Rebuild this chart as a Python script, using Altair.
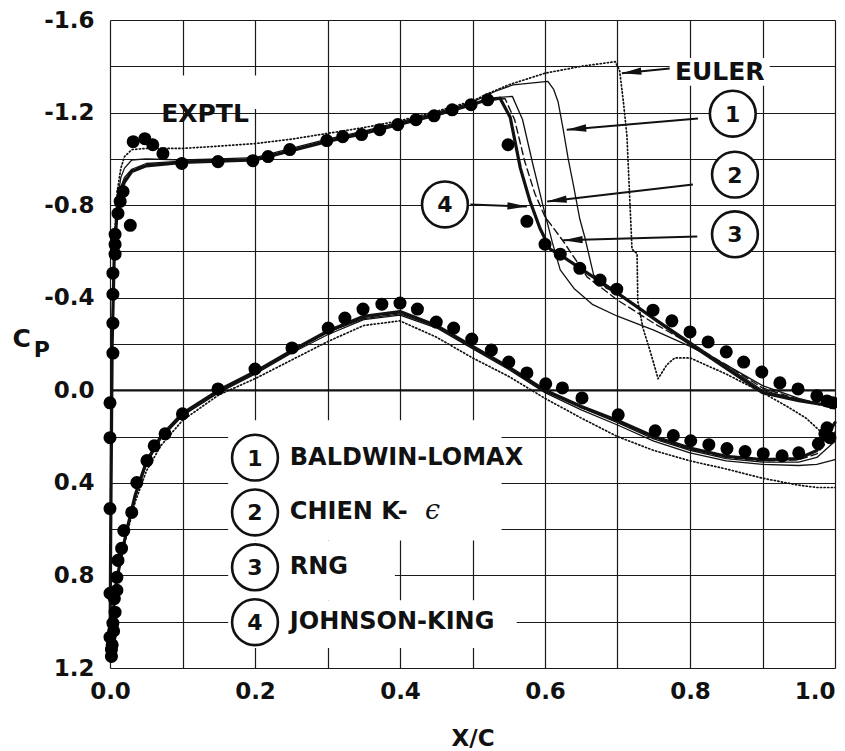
import altair as alt
import pandas as pd

# ---------------- experimental data (X/C, Cp) ----------------
EXP_X = [0.002, 0.002, 0.0, 0.003, 0.004, 0.007, 0.005, 0.0, 0.0095, 0.006, 0.0095, 0.011, 0.016, 0.019, 0.0,
         0.030, 0.037, 0.051, 0.061, 0.076, 0.1, 0.149, 0.2, 0.251, 0.301, 0.324, 0.349, 0.375, 0.4, 0.424,
         0.45, 0.474, 0.499, 0.526, 0.55, 0.575, 0.601, 0.624, 0.651, 0.701, 0.752, 0.777, 0.801, 0.826,
         0.851, 0.876, 0.901, 0.927, 0.95, 0.977, 0.986, 0.993, 0.989,
         0.0, 0.0, 0.004, 0.004, 0.004, 0.004, 0.007, 0.007, 0.007, 0.028, 0.011, 0.014, 0.018,
         0.032, 0.048, 0.059, 0.073, 0.099, 0.149, 0.197, 0.218, 0.248, 0.299, 0.321, 0.347, 0.372,
         0.397, 0.422, 0.447, 0.472, 0.498, 0.521, 0.549, 0.575, 0.6, 0.621, 0.648, 0.676, 0.699,
         0.749, 0.775, 0.8, 0.825, 0.85, 0.874, 0.899, 0.924, 0.949, 0.975, 0.989, 0.997]
EXP_CP = [1.15, 1.12, 1.067, 1.10, 1.006, 0.959, 1.04, 0.877, 0.864, 0.9, 0.808, 0.735, 0.683, 0.606, 0.511,
          0.528, 0.399, 0.304, 0.24, 0.188, 0.102, -0.006, -0.092, -0.183, -0.269, -0.312, -0.351, -0.372, -0.377, -0.351,
          -0.295, -0.269, -0.221, -0.174, -0.122, -0.075, -0.028, -0.01, 0.033, 0.106, 0.175, 0.196, 0.218, 0.235,
          0.252, 0.265, 0.274, 0.283, 0.27, 0.231, 0.188, 0.205, 0.162,
          0.205, 0.054, -0.161, -0.29, -0.415, -0.506, -0.588, -0.63, -0.674, -0.713, -0.764, -0.816, -0.859,
          -1.074, -1.087, -1.061, -1.023, -0.98, -0.988, -0.992, -1.01, -1.04, -1.079, -1.096, -1.105, -1.126,
          -1.148, -1.169, -1.186, -1.212, -1.234, -1.255, -1.061, -0.73, -0.631, -0.588, -0.527, -0.476, -0.437,
          -0.346, -0.3, -0.252, -0.209, -0.166, -0.122, -0.079, -0.032, -0.006, 0.024, 0.046, 0.054]

# ---------------- computed lines ----------------
LOWER_X = [0.0, 0.003, 0.008, 0.015, 0.025, 0.035, 0.05, 0.07, 0.1, 0.15, 0.2, 0.25, 0.3, 0.35, 0.4,
           0.45, 0.5, 0.55, 0.6, 0.65, 0.7, 0.75, 0.8, 0.85, 0.9, 0.95, 0.975, 1.0]
JK_LOWER = [1.15, 1.0, 0.85, 0.72, 0.58, 0.45, 0.31, 0.2, 0.1, 0.0, -0.08, -0.17, -0.255, -0.32, -0.34,
            -0.28, -0.19, -0.1, 0.0, 0.07, 0.13, 0.2, 0.25, 0.285, 0.3, 0.295, 0.26, 0.14]
BL_LOWER = [1.15, 1.0, 0.85, 0.72, 0.59, 0.46, 0.32, 0.21, 0.11, 0.01, -0.07, -0.16, -0.24, -0.305, -0.325,
            -0.27, -0.18, -0.09, 0.01, 0.085, 0.15, 0.22, 0.27, 0.305, 0.32, 0.325, 0.32, 0.30]
CHIEN_LOWER = [1.15, 1.0, 0.85, 0.72, 0.58, 0.46, 0.32, 0.205, 0.105, 0.005, -0.075, -0.165, -0.25, -0.31, -0.33,
               -0.275, -0.185, -0.095, 0.005, 0.075, 0.14, 0.21, 0.26, 0.295, 0.31, 0.31, 0.29, 0.22]
RNG_LOWER = [1.15, 1.0, 0.85, 0.72, 0.58, 0.455, 0.315, 0.2, 0.1, 0.0, -0.08, -0.165, -0.25, -0.315, -0.335,
             -0.28, -0.19, -0.1, 0.0, 0.075, 0.135, 0.205, 0.255, 0.29, 0.305, 0.3, 0.275, 0.18]
EULER_LOWER = [1.15, 1.0, 0.86, 0.73, 0.6, 0.48, 0.35, 0.24, 0.13, 0.02, -0.05, -0.13, -0.21, -0.28, -0.3,
               -0.23, -0.14, -0.06, 0.035, 0.12, 0.2, 0.26, 0.305, 0.34, 0.38, 0.41, 0.42, 0.42]

UP_LE_X = [0.0, 0.001, 0.003, 0.006, 0.01, 0.015, 0.02, 0.03, 0.05, 0.1, 0.15, 0.2, 0.25, 0.3, 0.35, 0.4, 0.45, 0.5]

JK_UP_X = UP_LE_X + [0.515, 0.538, 0.552, 0.566, 0.579, 0.593, 0.607, 0.621, 0.7, 0.8, 0.9, 0.95, 1.0]
JK_UP = [1.15, 0.6, -0.2, -0.6, -0.78, -0.86, -0.9, -0.945, -0.97, -0.985, -0.99, -0.995, -1.035, -1.075, -1.11, -1.15, -1.19, -1.235,
         -1.25, -1.262, -1.18, -0.96, -0.82, -0.70, -0.61, -0.585, -0.42, -0.20, 0.01, 0.045, 0.07]

CHIEN_UP_X = UP_LE_X + [0.531, 0.555, 0.569, 0.583, 0.597, 0.61, 0.621, 0.64, 0.666, 0.7, 0.75, 0.8, 0.85, 0.9, 0.95, 1.0]
CHIEN_UP = [1.15, 0.6, -0.2, -0.6, -0.79, -0.88, -0.92, -0.955, -0.98, -0.99, -0.995, -1.0, -1.04, -1.08, -1.115, -1.155, -1.195, -1.24,
            -1.265, -1.27, -1.17, -0.98, -0.80, -0.64, -0.52, -0.44, -0.37, -0.32, -0.26, -0.19, -0.11, -0.02, 0.035, 0.075]

RNG_UP_X = UP_LE_X + [0.525, 0.545, 0.558, 0.572, 0.586, 0.6, 0.625, 0.658, 0.7, 0.75, 0.8, 0.85, 0.9, 0.95, 1.0]
RNG_UP = [1.15, 0.6, -0.2, -0.6, -0.78, -0.87, -0.91, -0.95, -0.975, -0.985, -0.99, -0.995, -1.035, -1.075, -1.11, -1.15, -1.19, -1.235,
          -1.26, -1.26, -1.17, -0.99, -0.85, -0.75, -0.645, -0.49, -0.39, -0.29, -0.20, -0.11, -0.01, 0.04, 0.08]

BL_UP_X = UP_LE_X + [0.53, 0.556, 0.604, 0.612, 0.618, 0.625, 0.632, 0.639, 0.648, 0.655, 0.667, 0.685, 0.7, 0.8, 0.9, 0.95, 1.0]
BL_UP = [1.15, 0.6, -0.2, -0.62, -0.82, -0.92, -0.96, -0.995, -1.0, -0.995, -1.0, -1.005, -1.045, -1.085, -1.12, -1.16, -1.2, -1.245,
         -1.29, -1.32, -1.335, -1.30, -1.247, -1.13, -1.0, -0.89, -0.74, -0.66, -0.50, -0.44, -0.42, -0.21, 0.0, 0.04, 0.07]

EULER_UP_X = [0.0, 0.001, 0.003, 0.006, 0.01, 0.015, 0.02, 0.03, 0.05, 0.1, 0.15, 0.2, 0.25, 0.3, 0.35, 0.4, 0.45, 0.5,
              0.52, 0.55, 0.6, 0.65, 0.697, 0.703, 0.708, 0.713, 0.717, 0.72, 0.727, 0.728, 0.735, 0.745, 0.756, 0.768,
              0.779, 0.8, 0.85, 0.9, 0.934, 0.96, 0.979, 1.0]
EULER_UP = [1.15, 0.6, -0.25, -0.65, -0.86, -0.96, -1.01, -1.04, -1.045, -1.045, -1.055, -1.066, -1.085, -1.11, -1.135, -1.165, -1.205, -1.25,
            -1.28, -1.32, -1.37, -1.40, -1.42, -1.38, -1.25, -1.1, -0.82, -0.61, -0.59, -0.385, -0.27, -0.17, -0.05, -0.11,
            -0.14, -0.14, -0.07, 0.01, 0.07, 0.12, 0.175, 0.21]

# ---------------- annotations ----------------
LEGEND_NUMS = ["1", "2", "3", "4"]
LEGEND_NAMES = ["BALDWIN-LOMAX", "CHIEN K-", "RNG", "JOHNSON-KING"]
LEGEND_CP = [0.291, 0.528, 0.765, 1.002]
EPS_TEXT = ["\u03f5"]
CALLOUT_NUMS = ["1", "2", "3", "4"]
CALLOUT_X = [0.859, 0.862, 0.862, 0.462]
CALLOUT_CP = [-1.195, -0.932, -0.674, -0.803]
ARROW_X = [0.811, 0.804, 0.810, 0.497, 0.772]
ARROW_CP = [-1.174, -0.889, -0.665, -0.803, -1.39]
ARROW_X2 = [0.630, 0.603, 0.625, 0.575, 0.706]
ARROW_CP2 = [-1.126, -0.816, -0.648, -0.794, -1.37]
ARROW_ANGLE = [355, 353, 358, 2, 354]
ARROW_DIR = ["L", "L", "L", "R", "L"]

XT = [0.0, 0.1, 0.2, 0.3, 0.4, 0.5, 0.6, 0.7, 0.8, 0.9, 1.0]
YT = [-1.6, -1.4, -1.2, -1.0, -0.8, -0.6, -0.4, -0.2, 0.0, 0.2, 0.4, 0.6, 0.8, 1.0, 1.2]

FONT = "DejaVu Sans"
INK = "#111111"


def rows(model, surface, xs, cps):
    return [{"model": model, "surface": surface, "i": i, "x": x, "cp": c} for i, (x, c) in enumerate(zip(xs, cps))]


xs_scale = alt.Scale(domain=[0, 1], nice=False, zero=False)
ys_scale = alt.Scale(domain=[-1.6, 1.2], nice=False, zero=False, reverse=True)

x_axis = alt.Axis(values=XT, grid=True, ticks=False, tickSize=0, domain=False,
                  labelExpr="round(datum.value*10)%2==0 ? ((datum.value<0?'-':'') + format(abs(datum.value),'.1f')) : ''",
                  labelAlign={"condition": {"test": "datum.value >= 0.99", "value": "right"}, "value": "center"},
                  labelFont=FONT, labelFontSize=23, labelFontWeight="bold", labelColor=INK, labelPadding=12,
                  labelFlush=False, titleFont=FONT, titleFontSize=23, titleFontWeight="bold", titleColor=INK,
                  titlePadding=24, gridColor="#1a1a1a", gridWidth=1.2, gridOpacity=1)
y_axis = alt.Axis(values=YT, grid=True, ticks=False, tickSize=0, domain=False,
                  labelExpr="round(datum.value*5)%2==0 ? ((datum.value<0?'-':'') + format(abs(datum.value),'.1f')) : ''",
                  labelFont=FONT, labelFontSize=23, labelFontWeight="bold", labelColor=INK, labelPadding=16,
                  labelFlush=False, gridColor="#1a1a1a", gridWidth=1.2, gridOpacity=1)

X = alt.X("x:Q", scale=xs_scale, axis=x_axis, title="X/C")
Y = alt.Y("cp:Q", scale=ys_scale, axis=y_axis, title=None)
X2 = alt.X2("x2:Q")
Y2 = alt.Y2("cp2:Q")

# white knock-out boxes behind text (annotation geometry)
box_df = pd.DataFrame({
    "x": [0.163, 0.163, 0.163, 0.08, 0.772],
    "x2": [0.54, 0.393, 0.561, 0.212, 0.91],
    "cp": [0.13, 0.649, 0.907, -1.36, -1.436],
    "cp2": [0.649, 0.907, 1.114, -1.215, -1.316],
})
boxes = alt.Chart(box_df).mark_rect(color="white", opacity=1).encode(x=X, x2=X2, y=Y, y2=Y2)

zero_rule = alt.Chart(pd.DataFrame({"cp": [0.0]})).mark_rule(color=INK, strokeWidth=2.2).encode(y=Y)

styles = {
    "EULER": dict(strokeWidth=1.7, strokeDash=[1.2, 2.4]),
    "BL": dict(strokeWidth=1.3),
    "CHIEN": dict(strokeWidth=1.3),
    "RNG": dict(strokeWidth=1.4, strokeDash=[7, 4]),
    "JK": dict(strokeWidth=3.2),
}
series = {
    "EULER": (EULER_UP_X, EULER_UP, EULER_LOWER),
    "BL": (BL_UP_X, BL_UP, BL_LOWER),
    "CHIEN": (CHIEN_UP_X, CHIEN_UP, CHIEN_LOWER),
    "RNG": (RNG_UP_X, RNG_UP, RNG_LOWER),
    "JK": (JK_UP_X, JK_UP, JK_LOWER),
}
line_layers = []
for name, (ux, uc, lc) in series.items():
    df = pd.DataFrame(rows(name, "upper", ux, uc) + rows(name, "lower", LOWER_X, lc))
    line_layers.append(
        alt.Chart(df).mark_line(color=INK, strokeCap="round", strokeJoin="round", **styles[name]).encode(
            x=X, y=Y, detail="surface:N", order="i:Q")
    )

exp_df = pd.DataFrame({"x": EXP_X, "cp": EXP_CP})
points = alt.Chart(exp_df).mark_circle(size=170, color="black", opacity=1).encode(x=X, y=Y)

# arrows
arr_df = pd.DataFrame({"x": ARROW_X, "cp": ARROW_CP, "x2": ARROW_X2, "cp2": ARROW_CP2,
                       "ang": ARROW_ANGLE, "dir": ARROW_DIR})
shafts = alt.Chart(arr_df).mark_rule(color=INK, strokeWidth=2).encode(x=X, y=Y, x2=X2, y2=Y2)
HX = alt.X("hx:Q", scale=xs_scale, axis=x_axis, title="X/C")
HY = alt.Y("hcp:Q", scale=ys_scale, axis=y_axis, title=None)
head_left = alt.Chart(arr_df).transform_filter("datum.dir=='L'").transform_calculate(
    hx="datum.x2", hcp="datum.cp2").mark_point(
    shape="M0,0L2,-0.38L2,0.38Z", size=380, filled=True, color=INK, opacity=1).encode(
    x=HX, y=HY, angle=alt.Angle("ang:Q", scale=None))
head_right = alt.Chart(arr_df).transform_filter("datum.dir=='R'").transform_calculate(
    hx="datum.x2", hcp="datum.cp2").mark_point(
    shape="M0,0L-2,-0.38L-2,0.38Z", size=380, filled=True, color=INK, opacity=1).encode(
    x=HX, y=HY, angle=alt.Angle("ang:Q", scale=None))

# numbered circles
circ_df = pd.DataFrame({"x": CALLOUT_X + [0.2] * 4, "cp": CALLOUT_CP + LEGEND_CP,
                        "t": CALLOUT_NUMS + LEGEND_NUMS})
circles = alt.Chart(circ_df).mark_point(shape="circle", size=2100, fill="white", fillOpacity=1,
                                        stroke=INK, strokeWidth=2.6, opacity=1).encode(x=X, y=Y)
circle_txt = alt.Chart(circ_df).mark_text(font=FONT, fontSize=22, fontWeight="bold", color=INK,
                                          align="center", baseline="middle", dy=1).encode(x=X, y=Y, text="t:N")

leg_df = pd.DataFrame({"x": [0.248] * 4, "cp": LEGEND_CP, "t": LEGEND_NAMES})
leg_txt = alt.Chart(leg_df).mark_text(font=FONT, fontSize=24, fontWeight="bold", color=INK,
                                      align="left", baseline="middle").encode(x=X, y=Y, text="t:N")
eps_df = pd.DataFrame({"x": [0.445], "cp": [LEGEND_CP[1]], "t": EPS_TEXT})
eps_txt = alt.Chart(eps_df).mark_text(font="DejaVu Serif", fontSize=27, fontStyle="italic", color=INK,
                                      align="center", baseline="middle", dy=-1).encode(x=X, y=Y, text="t:N")

lab_df = pd.DataFrame({"x": [0.131, 0.841], "cp": [-1.195, -1.376], "t": ["EXPTL", "EULER"]})
labels = alt.Chart(lab_df).mark_text(font=FONT, fontSize=25, fontWeight="bold", color=INK,
                                     align="center", baseline="middle").encode(x=X, y=Y, text="t:N")
cp_df = pd.DataFrame({"x": [-0.122], "cp": [-0.221], "t": ["C"]})
cp_txt = alt.Chart(cp_df).mark_text(font=FONT, fontSize=25, fontWeight="bold", color=INK,
                                    align="center", baseline="middle").encode(x=X, y=Y, text="t:N")
sub_df = pd.DataFrame({"x": [-0.094], "cp": [-0.172], "t": ["P"]})
sub = alt.Chart(sub_df).mark_text(font=FONT, fontSize=22, fontWeight="bold", color=INK,
                                  align="center", baseline="middle").encode(x=X, y=Y, text="t:N")

chart = alt.layer(
    boxes, zero_rule, *line_layers, points, shafts, head_left, head_right,
    circles, circle_txt, leg_txt, eps_txt, labels, cp_txt, sub
).properties(
    width=725, height=648,
    autosize=alt.AutoSizeParams(type="none"),
    padding={"left": 102, "top": 12, "right": 2, "bottom": 82},
).configure_view(stroke="black", strokeWidth=2.6).configure(background="white")

chart.save("out.html", embed_options={"renderer": "svg", "actions": False})
